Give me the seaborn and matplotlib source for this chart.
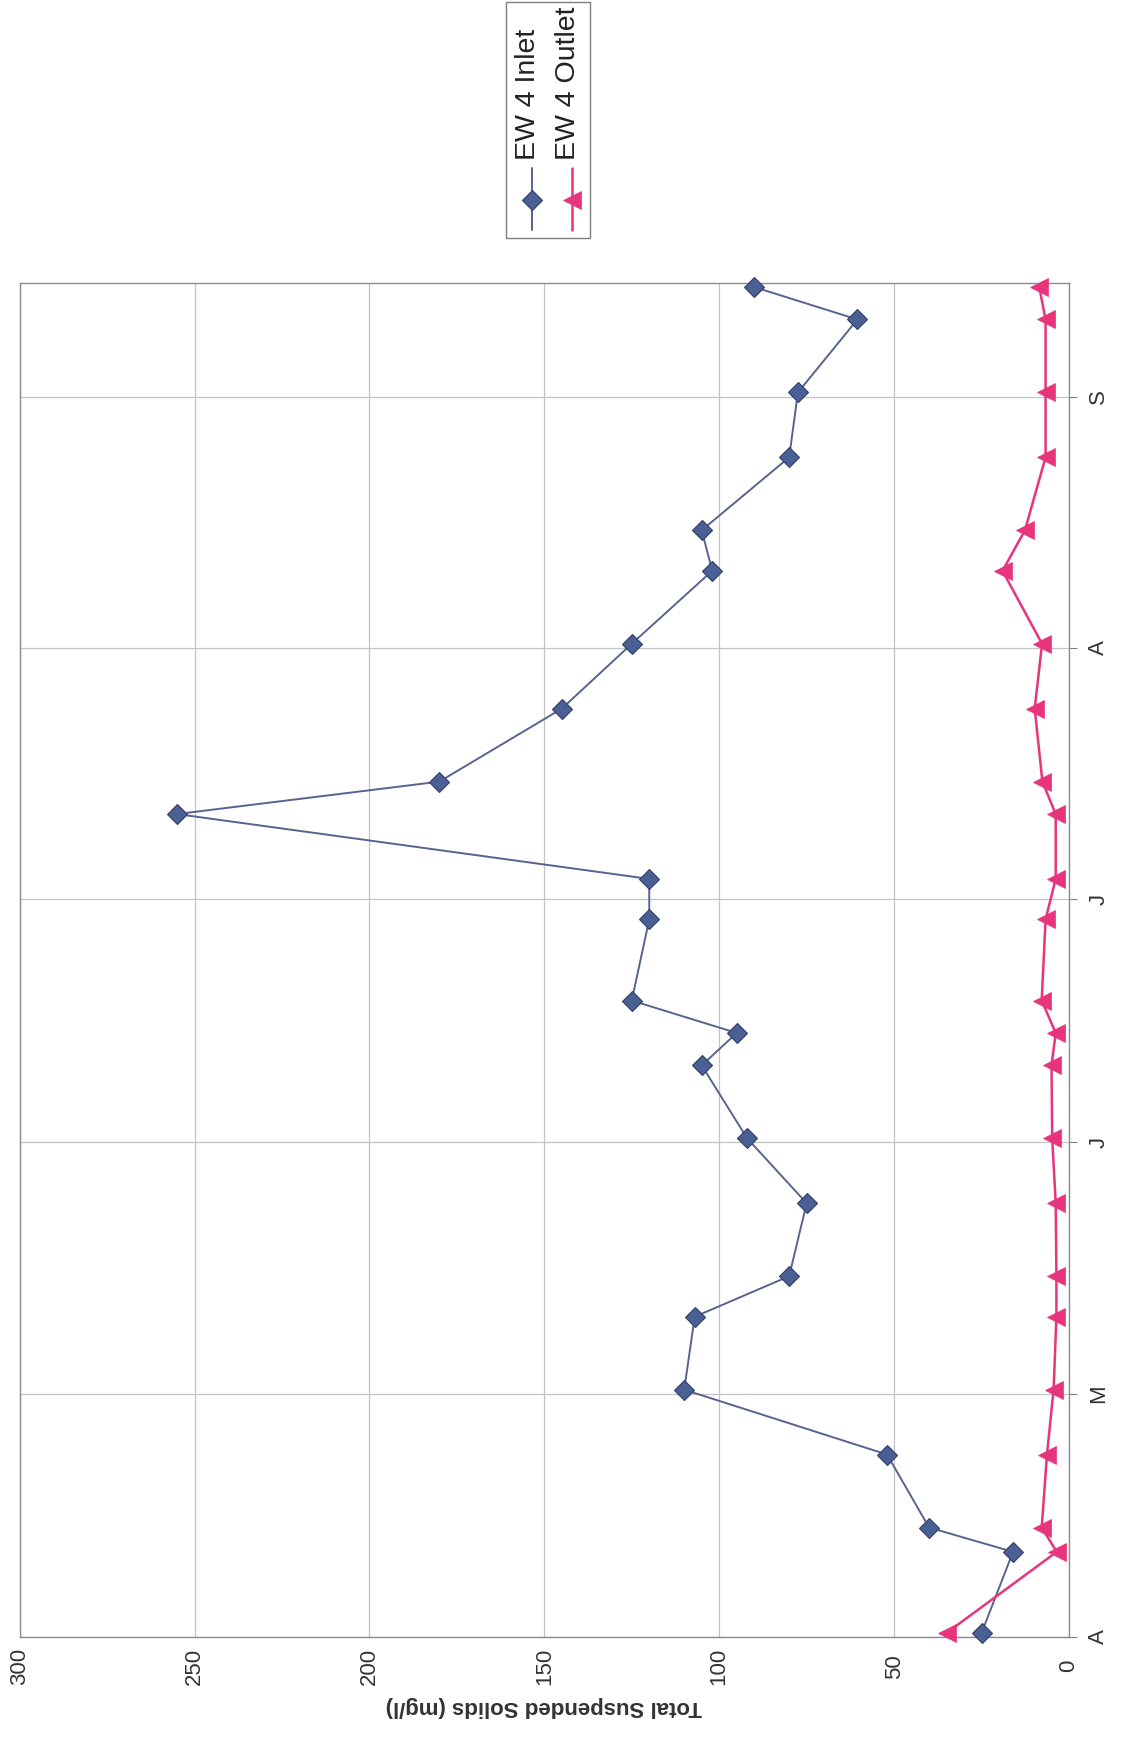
import pandas as pd
import matplotlib
matplotlib.use("Agg")
import matplotlib.pyplot as plt
from matplotlib.lines import Line2D
from matplotlib.patches import Rectangle
import seaborn as sns

# Sampling dates and total suspended solids (mg/l) at the inlet and outlet
sample_dates = ["2003-04-01", "2003-04-11", "2003-04-14", "2003-04-23", "2003-05-01",
                "2003-05-10", "2003-05-15", "2003-05-24", "2003-06-01", "2003-06-10",
                "2003-06-14", "2003-06-18", "2003-06-28", "2003-07-03", "2003-07-11",
                "2003-07-15", "2003-07-24", "2003-08-01", "2003-08-10", "2003-08-15",
                "2003-08-24", "2003-09-01", "2003-09-10", "2003-09-14"]
inlet_tss = [25, 16, 40, 52, 110, 107, 80, 75, 92, 105, 95, 125,
             120, 120, 255, 180, 145, 125, 102, 105, 80, 77.5, 60.5, 90]
outlet_tss = [35, 3.5, 7.8, 6.3, 4.4, 3.6, 3.6, 3.8, 4.8, 5.0, 3.8, 7.8,
              6.7, 3.8, 3.8, 7.6, 9.8, 7.7, 19, 12.6, 6.7, 6.7, 6.7, 8.5]
series_names = ["EW 4 Inlet", "EW 4 Outlet"]
month_labels = ["A", "M", "J", "J", "A", "S"]
tss_ticks = [0, 50, 100, 150, 200, 250, 300]

sns.set_style("white")
plt.rcParams["font.family"] = ["Liberation Sans", "DejaVu Sans"]

W, H = 1122, 1750
fig = plt.figure(figsize=(W / 100, H / 100), dpi=100)
ax = fig.add_axes([19.6 / W, 1 - 1637 / H, (1069 - 19.6) / W, (1637 - 283) / H])

# samples are plotted at midday of each sampling date
df = pd.DataFrame({"date": pd.to_datetime(sample_dates) + pd.Timedelta(hours=12),
                   "inlet": inlet_tss, "outlet": outlet_tss})

INLET_LINE = "#56648e"
INLET_FILL = "#4a5f93"
INLET_EDGE = "#33406a"
OUTLET = "#e8347c"

# The chart is laid out sideways: concentration runs right-to-left, time bottom-to-top
sns.lineplot(data=df, x="inlet", y="date", orient="y", sort=False, estimator=None,
             ax=ax, color=INLET_LINE, lw=1.4, marker="D", markersize=10,
             markerfacecolor=INLET_FILL, markeredgecolor=INLET_EDGE, markeredgewidth=0.8,
             clip_on=False, zorder=4)
sns.lineplot(data=df, x="outlet", y="date", orient="y", sort=False, estimator=None,
             ax=ax, color=OUTLET, lw=1.8, marker="<", markersize=13,
             markerfacecolor=OUTLET, markeredgecolor=OUTLET, markeredgewidth=0.5,
             clip_on=False, zorder=5)

ax.set_xlim(300, 0)
ax.set_ylim(pd.Timestamp("2003-04-01"), pd.Timestamp("2003-09-15"))

ax.set_xticks(tss_ticks)
ax.set_xticklabels([str(t) for t in tss_ticks], rotation=90, va="center")
month_starts = pd.date_range("2003-04-01", periods=len(month_labels), freq="MS")
ax.set_yticks(month_starts)
ax.set_yticklabels(month_labels, rotation=90, va="center")
ax.yaxis.tick_right()

ax.tick_params(axis="both", direction="out", length=6, width=0.8, color="#808080",
               labelsize=16, labelcolor="#333333")
ax.tick_params(axis="x", pad=15)
ax.tick_params(axis="y", pad=8)
ax.grid(True, color="#c4c4c4", lw=0.9)
for s in ax.spines.values():
    s.set_color("#8c8c8c")
    s.set_linewidth(1.0)

ax.set_ylabel("")
ax.set_xlabel("Total Suspended Solids (mg/l)", rotation=180, fontsize=16,
              fontweight="bold", color="#333333")
ax.xaxis.set_label_coords(0.5, -(1707 - 1637) / (1637 - 283))
ax.xaxis.label.set_va("center")

# Legend, turned to match the sideways layout
fig.add_artist(Rectangle((506 / W, 1 - 238 / H), (590 - 506) / W, (238 - 2) / H,
                         transform=fig.transFigure, facecolor="white",
                         edgecolor="#7f7f7f", lw=1.0))
legend_items = [
    (532, 528, dict(color=INLET_LINE, lw=1.4), dict(marker="D", markersize=10,
     markerfacecolor=INLET_FILL, markeredgecolor=INLET_EDGE, markeredgewidth=0.8)),
    (572, 568, dict(color=OUTLET, lw=1.8), dict(marker="<", markersize=13,
     markerfacecolor=OUTLET, markeredgecolor=OUTLET, markeredgewidth=0.5)),
]
for name, (lx, tx, line_kw, mark_kw) in zip(series_names, legend_items):
    fig.add_artist(Line2D([lx / W, lx / W], [1 - 168 / H, 1 - 230 / H],
                          transform=fig.transFigure, **line_kw))
    fig.add_artist(Line2D([lx / W], [1 - 200 / H], transform=fig.transFigure,
                          linestyle="none", **mark_kw))
    fig.text(tx / W, 1 - 160 / H, name, rotation=90, ha="center", va="bottom",
             fontsize=20.5, color="#222222")

fig.savefig("out.png", dpi=100)
